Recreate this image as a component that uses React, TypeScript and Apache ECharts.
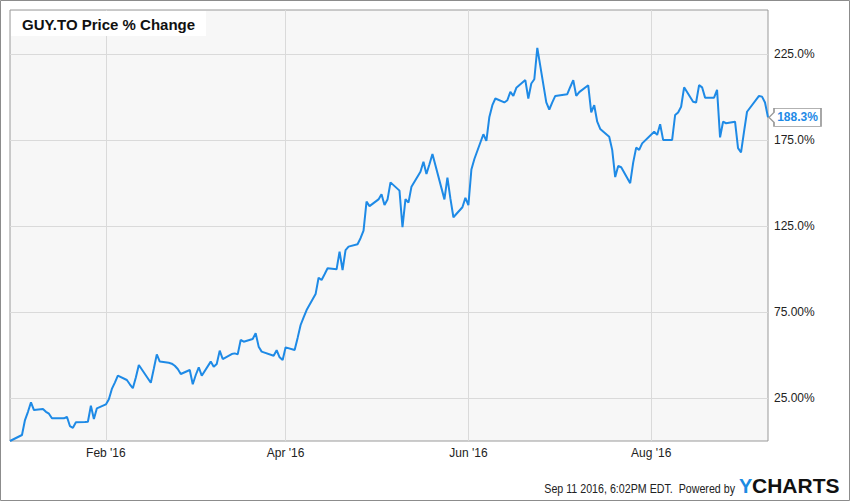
import React, { useEffect, useRef } from 'react';
import * as echarts from 'echarts';

// Trading days (2016, TSX) and GUY.TO % price change
const dates: string[] = [
  '2015-12-31', '2016-01-04', '2016-01-05', '2016-01-06', '2016-01-07', '2016-01-08',
  '2016-01-11', '2016-01-12', '2016-01-13', '2016-01-14', '2016-01-15',
  '2016-01-18', '2016-01-19', '2016-01-20', '2016-01-21', '2016-01-22',
  '2016-01-25', '2016-01-26', '2016-01-27', '2016-01-28', '2016-01-29',
  '2016-02-01', '2016-02-02', '2016-02-03', '2016-02-04', '2016-02-05',
  '2016-02-08', '2016-02-09', '2016-02-10', '2016-02-11', '2016-02-12',
  '2016-02-16', '2016-02-17', '2016-02-18', '2016-02-19',
  '2016-02-22', '2016-02-23', '2016-02-24', '2016-02-25', '2016-02-26',
  '2016-02-29', '2016-03-01', '2016-03-02', '2016-03-03', '2016-03-04',
  '2016-03-07', '2016-03-08', '2016-03-09', '2016-03-10', '2016-03-11',
  '2016-03-14', '2016-03-15', '2016-03-16', '2016-03-17', '2016-03-18',
  '2016-03-21', '2016-03-22', '2016-03-23', '2016-03-24',
  '2016-03-28', '2016-03-29', '2016-03-30', '2016-03-31', '2016-04-01',
  '2016-04-04', '2016-04-05', '2016-04-06', '2016-04-07', '2016-04-08',
  '2016-04-11', '2016-04-12', '2016-04-13', '2016-04-14', '2016-04-15',
  '2016-04-18', '2016-04-19', '2016-04-20', '2016-04-21', '2016-04-22',
  '2016-04-25', '2016-04-26', '2016-04-27', '2016-04-28', '2016-04-29',
  '2016-05-02', '2016-05-03', '2016-05-04', '2016-05-05', '2016-05-06',
  '2016-05-09', '2016-05-10', '2016-05-11', '2016-05-12', '2016-05-13',
  '2016-05-16', '2016-05-17', '2016-05-18', '2016-05-19', '2016-05-20',
  '2016-05-24', '2016-05-25', '2016-05-26', '2016-05-27',
  '2016-05-30', '2016-05-31', '2016-06-01', '2016-06-02', '2016-06-03',
  '2016-06-06', '2016-06-07', '2016-06-08', '2016-06-09', '2016-06-10',
  '2016-06-13', '2016-06-14', '2016-06-15', '2016-06-16', '2016-06-17',
  '2016-06-20', '2016-06-21', '2016-06-22', '2016-06-23', '2016-06-24',
  '2016-06-27', '2016-06-28', '2016-06-29', '2016-06-30',
  '2016-07-04', '2016-07-05', '2016-07-06', '2016-07-07', '2016-07-08',
  '2016-07-11', '2016-07-12', '2016-07-13', '2016-07-14', '2016-07-15',
  '2016-07-18', '2016-07-19', '2016-07-20', '2016-07-21', '2016-07-22',
  '2016-07-25', '2016-07-26', '2016-07-27', '2016-07-28', '2016-07-29',
  '2016-08-02', '2016-08-03', '2016-08-04', '2016-08-05',
  '2016-08-08', '2016-08-09', '2016-08-10', '2016-08-11', '2016-08-12',
  '2016-08-15', '2016-08-16', '2016-08-17', '2016-08-18', '2016-08-19',
  '2016-08-22', '2016-08-23', '2016-08-24', '2016-08-25', '2016-08-26',
  '2016-08-29', '2016-08-30', '2016-08-31', '2016-09-01', '2016-09-02',
  '2016-09-06', '2016-09-07', '2016-09-08', '2016-09-09',
];

const pctChange: number[] = [
  0, 3.5, 12.2, 17, 22.5, 18,
  18.6, 17, 15.9, 13.2, 13.2,
  13.2, 14.1, 8.7, 7.7, 10.9,
  11, 11.2, 20.5, 12.8, 19,
  21.3, 24.3, 30.3, 34, 38,
  35.5, 33, 30.7, 37, 44.2,
  33.9, 42, 50.4, 46.2,
  45.5, 45, 43.8, 41.9, 39,
  41.3, 33, 38.4, 42.9, 38,
  46.2, 43.2, 44.8, 52.6, 47.7,
  50.6, 51, 50.4, 58.8, 57.8,
  59.4, 62.7, 54.9, 52,
  49.6, 52.8, 48.7, 47.1, 54.5,
  53, 60, 67.5, 72, 76.2,
  85.5, 95, 93.7, 97, 100.5,
  99.9, 110.2, 99.5, 111.1, 113.1,
  114.5, 118, 122.4, 139.3, 136.7,
  140.6, 143.6, 137.3, 140.5, 150.5,
  145.7, 124.4, 140.8, 138.7, 148,
  156.7, 162.5, 155.4, 161, 167,
  140.6, 153.3, 141, 130.2,
  136, 141.5, 137.3, 158, 164.1,
  178.5, 174.6, 188.6, 195.4, 199.3,
  197, 198.3, 203.2, 200.8, 205.5,
  210, 199.3, 208, 210.5, 228.8,
  197, 192.9, 197, 200.8,
  201.8, 206, 210, 200.8, 203,
  207, 191.2, 195.4, 185.8, 181.6,
  177, 169.4, 153.6, 160, 159.3,
  150, 162, 170.7, 169.4, 173.2,
  180, 178.1, 184.3, 175.2,
  175.2, 189.7, 191.2, 194.5, 205.8,
  197.4, 197, 207.1, 205.8, 199.8,
  199.8, 204.3, 176.7, 185.8, 184.9,
  185.8, 170.4, 168, 180, 191.6,
  200.8, 200.4, 197, 188.3,
];

const xTickDates: string[] = ['2016-02-01', '2016-04-01', '2016-06-01', '2016-08-01'];
const xTickLabels: string[] = ["Feb '16", "Apr '16", "Jun '16", "Aug '16"];
const yTickValues: number[] = [25, 75, 125, 175, 225];

const titleText = 'GUY.TO Price % Change';
const lastValueLabel = '188.3%';
const footerText = 'Sep 11 2016, 6:02PM EDT.  Powered by';

const FONT = "'Liberation Sans', Arial, Helvetica, sans-serif";
const BLUE = '#1e8ae6';

function ts(s: string): number {
  const [y, m, d] = s.split('-').map(Number);
  return Date.UTC(y, m - 1, d);
}

export default function App() {
  const ref = useRef<HTMLDivElement>(null);

  useEffect(() => {
    if (!ref.current) return;
    const chart = echarts.init(ref.current, undefined, { renderer: 'svg' });
    const xTicks = xTickDates.map(ts);
    const seriesData = dates.map((d, i) => [ts(d), pctChange[i]]);
    const lastIdx = dates.length - 1;

    chart.setOption({
      animation: false,
      backgroundColor: '#ffffff',
      grid: {
        left: 10,
        top: 10,
        width: 758,
        height: 431,
        show: true,
        backgroundColor: '#f7f7f7',
        borderColor: '#999999',
        borderWidth: 1,
      },
      xAxis: {
        type: 'value',
        min: ts(dates[0]),
        max: ts(dates[lastIdx]),
        axisLine: { show: false },
        axisTick: { show: false, customValues: xTicks },
        axisLabel: {
          customValues: xTicks,
          margin: 6,
          color: '#222222',
          fontSize: 12,
          fontFamily: FONT,
          formatter: (v: number) => {
            const i = xTicks.indexOf(v);
            return i >= 0 ? xTickLabels[i] : '';
          },
        },
        splitLine: { show: true, lineStyle: { color: '#dadada', width: 1 } },
      },
      yAxis: {
        type: 'value',
        position: 'right',
        min: 0,
        max: 250.8,
        axisLine: { show: false },
        axisTick: { show: false, customValues: yTickValues },
        axisLabel: {
          customValues: yTickValues,
          margin: 6,
          color: '#222222',
          fontSize: 12,
          fontFamily: FONT,
          formatter: (v: number) => v.toPrecision(4) + '%',
        },
        splitLine: { show: true, lineStyle: { color: '#dadada', width: 1 } },
      },
      series: [
        {
          type: 'line',
          data: seriesData,
          showSymbol: false,
          symbol: 'none',
          clip: false,
          lineStyle: { color: BLUE, width: 2 },
          markPoint: {
            symbol: 'path://M0,9L5,4L5,0L52,0L52,18L5,18L5,14Z',
            symbolSize: [52, 18],
            symbolOffset: [27, 0],
            itemStyle: { color: '#ffffff', borderColor: '#999999', borderWidth: 1 },
            label: {
              show: true,
              position: 'inside',
              formatter: lastValueLabel,
              color: BLUE,
              fontWeight: 'bold',
              fontSize: 12,
              fontFamily: FONT,
              offset: [2.5, 0],
            },
            data: [{ coord: [ts(dates[lastIdx]), pctChange[lastIdx]], value: pctChange[lastIdx] }],
          },
        },
      ],
      graphic: [
        {
          type: 'rect',
          shape: { x: 0.5, y: 0.5, width: 849, height: 500 },
          style: { fill: 'none', stroke: '#8c8c8c', lineWidth: 1 },
          silent: true,
          z: 100,
        },
        {
          type: 'rect',
          shape: { x: 11, y: 11, width: 195, height: 25 },
          style: { fill: '#ffffff' },
          silent: true,
          z: 50,
        },
        {
          type: 'text',
          x: 22,
          y: 24,
          style: {
            text: titleText,
            fill: '#111111',
            font: `bold 15px ${FONT}`,
            verticalAlign: 'middle',
            align: 'left',
          },
          silent: true,
          z: 51,
        },
        {
          type: 'text',
          x: 735,
          y: 488.5,
          scaleX: 0.89,
          style: {
            text: footerText,
            fill: '#222222',
            font: `12px ${FONT}`,
            verticalAlign: 'middle',
            align: 'right',
          },
          silent: true,
        },
        {
          type: 'text',
          x: 739,
          y: 485.5,
          style: {
            text: 'Y',
            fill: '#1c8be3',
            font: `bold 20px ${FONT}`,
            verticalAlign: 'middle',
            align: 'left',
          },
          silent: true,
        },
        {
          type: 'text',
          x: 752,
          y: 485.5,
          scaleX: 1.05,
          style: {
            text: 'CHARTS',
            fill: '#111111',
            font: `bold 20px ${FONT}`,
            verticalAlign: 'middle',
            align: 'left',
          },
          silent: true,
        },
      ],
    });

    return () => chart.dispose();
  }, []);

  return (
    <div
      style={{ position: 'fixed', left: 0, top: 0, width: 850, height: 501, background: '#fff' }}
    >
      <div ref={ref} style={{ width: 850, height: 501 }} />
    </div>
  );
}
